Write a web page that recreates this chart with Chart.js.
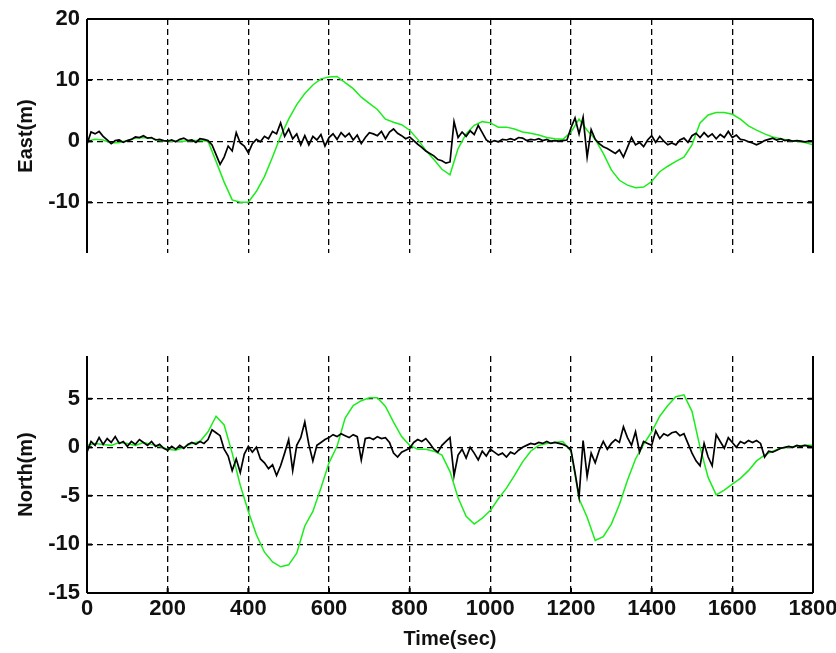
<!DOCTYPE html>
<html>
<head>
<meta charset="utf-8">
<script src="https://cdn.jsdelivr.net/npm/chart.js@4"></script>
<style>
  html, body { margin: 0; padding: 0; background: #fff; }
  #wrap { position: relative; width: 836px; height: 653px; }
  .box { position: absolute; left: 0; width: 836px; }
</style>
</head>
<body>
<div id="wrap">
  <div class="box" style="top:0;height:262px"><canvas id="east"></canvas></div>
  <div class="box" style="top:340px;height:313px"><canvas id="north"></canvas></div>
</div>
<script>
// tick labels
const timeTicks = [0, 200, 400, 600, 800, 1000, 1200, 1400, 1600, 1800];
const eastTicks = [-10, 0, 10, 20];
const northTicks = [-15, -10, -5, 0, 5];

// black trace, one value every 10 s
const eastBlack = [
  -0.5, 1.5, 1.2, 1.6, 0.8, 0.2, -0.4, 0.1, 0.2, -0.2,
  0.1, 0.3, 0.7, 0.6, 0.9, 0.5, 0.6, 0.2, 0.3, 0.1,
  0, 0.2, -0.1, 0.3, 0.5, 0.1, 0.2, -0.2, 0.4, 0.3,
  0.1, -0.6, -2.2, -3.8, -2.6, -0.8, -1.6, 1.4, -0.3, -0.8,
  -1.9, -0.4, 0.3, -0.1, 0.8, 0.4, 1.6, 1.2, 3.0, 0.8,
  2.0, 0.4, 1.2, -0.6, 0.9, -0.6, 0.8, 0.2, 1.1, -0.8,
  0.6, 1.2, 0.3, 1.4, 0.7, 1.3, 0.2, 1.0, -0.4, 0.6,
  1.4, 1.2, 0.9, 1.6, 0.4, 1.5, 2.0, 1.3, 0.9, 0.4,
  0.7, 0.1, -0.5, -1.0, -1.6, -2.0, -2.4, -3.0, -3.2, -3.6,
  -3.4, 3.2, 0.6, 1.5, 0.8, 1.7, 1.1, 2.6, 1.4, 0.2,
  -0.2, 0.1, -0.1, 0.3, 0.2, 0.4, 0.2, 0.6, 0.5, 0.1,
  0.3, 0.2, 0.4, 0.1, 0.3, 0, 0.1, 0, 0.1, 0.2,
  2.2, 3.8, 1.2, 3.9, -2.6, 1.9, 0.3, -0.4, -0.9, -1.2,
  -1.6, -2.0, -1.4, -2.6, -1.0, 0.6, -0.6, -0.2, -0.9, 0.2,
  0.9, -0.2, 0.8, 0, -0.6, -0.3, -0.6, 0.2, 0.5, -0.2,
  0.9, 1.3, 0.6, 1.4, 0.7, 1.2, 0.4, 1.1, 0.6, 1.6,
  0.6, 1.0, 0.3, 0.2, -0.1, -0.3, -0.6, -0.3, 0.1, 0.3,
  0.5, 0.2, 0.4, 0.1, 0.2, 0, 0.1, 0, -0.1, 0,
  0
];
const northBlack = [
  -0.5, 0.6, 0.2, 1.0, 0.3, 0.9, 0.5, 1.1, 0.4, 0.6,
  0.1, 0.6, 0.3, 0.8, 0.5, 0.2, 0.6, 0.1, 0.3, -0.1,
  -0.3, 0.1, -0.2, 0.2, -0.1, 0.3, 0.5, 0.3, 0.6, 0.4,
  0.8, 1.8, 1.5, 1.2, -0.2, -0.9, -2.4, -1.2, -2.6, -0.7,
  0.1, -0.5, 0, -1.2, -1.6, -2.2, -1.8, -2.9, -1.9, -0.6,
  0.8, -2.4, 0.2, 1.0, 2.6, 0.3, -1.4, 0.2, 0.5, 0.8,
  1.0, 1.3, 1.1, 1.4, 1.2, 1.0, 1.3, 1.1, -1.3, 0.9,
  1.0, 0.8, 1.1, 0.9, 1.0, 0.5, -0.6, -1.0, -0.5, -0.3,
  -0.1, 0.5, 0.8, 0.6, 0.9, 0.4, -0.2, -0.5, 0.2, 0.6,
  1.0, -2.9, -0.8, -0.2, -1.1, 0, -0.6, -1.3, -0.4, -0.9,
  -0.2, -0.5, -0.8, -0.6, -1.0, -0.5, -0.7, -0.3, 0, 0.2,
  0.4, 0.3, 0.5, 0.4, 0.6, 0.4, 0.5, 0.4, 0.3, 0.1,
  -0.3, -2.6, -5.1, 0.7, -3.0, -0.6, -1.6, -0.3, 0.6, -0.2,
  0.4, 0.8, 0.5, 2.1, 1.0, 0.2, 1.6, -0.5, 0.6, 0.4,
  0.2, 1.7, 0.9, 1.4, 1.2, 1.5, 1.6, 1.2, 1.4, 0.4,
  -0.6, -1.4, -1.9, 0.4, -1.0, -1.9, 1.3, 0.6, -0.1, 1.0,
  0.5, 0, 0.6, 0.4, 0.7, 0.5, 0.7, 0.4, -1.0, -0.4,
  -0.5, -0.3, -0.1, 0, 0.1, 0, 0.2, 0.1, 0.2, 0.1,
  0
];

// green trace, one value every 20 s
const eastGreen = [
  0, 0.3, 0.2, -0.3, -0.2, 0.1, 0.5, 0.6, 0.5, 0.1,
  0, 0, 0, 0.1, 0.1, 0, -3.3, -6.7, -9.6, -10,
  -10, -8.2, -5.8, -2.6, 0.8, 3.6, 6, 7.8, 9.2, 10.2,
  10.5, 10.6, 9.6, 8.6, 7.2, 6.2, 5.2, 3.6, 3.1, 2.7,
  1.8, 0.3, -1.5, -3, -4.6, -5.5, -1.2, 1.2, 2.6, 3.2,
  3, 2.3, 2.3, 2, 1.5, 1.3, 1, 0.6, 0.4, 0.3,
  1.5, 3.6, 1.8, 0.3, -2, -4.7, -6.4, -7.2, -7.6, -7.5,
  -6.6, -5.0, -4.1, -3.3, -2.6, -0.6, 3.0, 4.3, 4.7, 4.7,
  4.4, 3.6, 2.5, 1.8, 1.2, 0.7, 0.4, 0.1, 0, -0.2,
  -0.6
];
const northGreen = [
  0.2, 0.4, 0.3, 0.2, 0.5, 0.4, 0.2, 0.5, 0.3, 0.1,
  -0.2, -0.3, 0, 0.4, 0.6, 1.6, 3.2, 2.3, -0.6, -3.9,
  -6.6, -9.0, -10.8, -11.8, -12.3, -12.1, -10.9, -8.1, -6.6, -4.2,
  -1.6, 0.1, 3.0, 4.3, 4.8, 5.1, 5.1, 4.2, 2.6, 1.1,
  0.2, -0.2, -0.2, -0.4, -0.8, -2.5, -5.2, -7.1, -7.9, -7.3,
  -6.5, -5.3, -4.2, -2.9, -1.5, -0.4, 0.2, 0.4, 0.5, 0.6,
  -0.4, -5.3, -7.2, -9.6, -9.2, -7.9, -5.9, -3.4, -1.2, 0.3,
  1.6, 3.2, 4.3, 5.2, 5.4, 3.7, 0, -3.1, -4.9, -4.4,
  -3.8, -3.2, -2.4, -1.4, -0.8, -0.4, -0.1, 0, 0.1, 0.2,
  0.2
];

const pts = (vals, step) => vals.map((v, i) => ({ x: i * step, y: v }));

const FONT = 'Liberation Sans, Arial, sans-serif';
const INK = '#111';

// draws the solid box edges and the small inward ticks, matlab style
const frame = {
  id: 'frame',
  afterDraw(chart, args, opts) {
    const { ctx, chartArea: a, scales } = chart;
    ctx.save();
    ctx.strokeStyle = '#000';
    ctx.lineWidth = 2;
    ctx.beginPath();
    ctx.moveTo(a.left, a.top); ctx.lineTo(a.left, a.bottom);
    ctx.moveTo(a.right, a.top); ctx.lineTo(a.right, a.bottom);
    if (opts.top) { ctx.moveTo(a.left, a.top); ctx.lineTo(a.right, a.top); }
    if (opts.bottom) { ctx.moveTo(a.left, a.bottom); ctx.lineTo(a.right, a.bottom); }
    scales.y.ticks.forEach(t => {
      const y = scales.y.getPixelForValue(t.value);
      ctx.moveTo(a.left, y); ctx.lineTo(a.left + 5, y);
      ctx.moveTo(a.right - 5, y); ctx.lineTo(a.right, y);
    });
    if (opts.bottom) {
      scales.x.ticks.forEach(t => {
        const x = scales.x.getPixelForValue(t.value);
        ctx.moveTo(x, a.bottom); ctx.lineTo(x, a.bottom - 5);
      });
    }
    ctx.stroke();
    ctx.restore();
  }
};

function makeChart(id, black, green, yTicks, yMin, yMax, label, opts) {
  return new Chart(document.getElementById(id), {
    type: 'line',
    data: {
      datasets: [
        { data: pts(black, 10), borderColor: '#000', borderWidth: 1.7 },
        { data: pts(green, 20), borderColor: '#1aee1a', borderWidth: 1.5 }
      ]
    },
    plugins: [frame],
    options: {
      responsive: true,
      maintainAspectRatio: false,
      animation: false,
      elements: { point: { radius: 0 }, line: { tension: 0 } },
      layout: { padding: { top: opts.padTop, right: 23, left: 0, bottom: 0 } },
      plugins: {
        legend: { display: false },
        tooltip: { enabled: false },
        frame: { top: opts.showTop, bottom: opts.showBottom }
      },
      scales: {
        x: {
          type: 'linear',
          min: 0,
          max: 1800,
          bounds: 'data',
          afterBuildTicks: s => { s.ticks = timeTicks.map(v => ({ value: v })); },
          afterFit: s => {
            s.height = opts.xHeight;
            s.paddingLeft = 0;
            s.paddingRight = 0;
          },
          grid: { color: '#000', lineWidth: 1.3, drawTicks: false },
          border: { display: false, dash: [6, 4] },
          ticks: {
            display: opts.showBottom,
            padding: 3,
            color: INK,
            maxRotation: 0,
            callback: v => String(v),
            font: { family: FONT, size: 22, weight: 'bold' }
          },
          title: {
            display: opts.showBottom,
            text: 'Time(sec)',
            color: INK,
            padding: { top: 0, bottom: 2 },
            font: { family: FONT, size: 20, weight: 'bold' }
          }
        },
        y: {
          min: yMin,
          max: yMax,
          bounds: 'data',
          afterBuildTicks: s => { s.ticks = yTicks.map(v => ({ value: v })); },
          afterFit: s => {
            s.width = 87;
            s.paddingTop = 0;
            s.paddingBottom = 0;
          },
          grid: { color: '#000', lineWidth: 1.3, drawTicks: false },
          border: { display: false, dash: [6, 4] },
          ticks: {
            padding: 7,
            color: INK,
            callback: v => String(v),
            font: { family: FONT, size: 22, weight: 'bold' }
          },
          title: {
            display: true,
            text: label,
            color: INK,
            padding: { top: 14, bottom: 0 },
            font: { family: FONT, size: 20, weight: 'bold' }
          }
        }
      }
    }
  });
}

makeChart('east', eastBlack, eastGreen, eastTicks, -18.3, 20, 'East(m)',
  { padTop: 19, xHeight: 9, showTop: true, showBottom: false });
makeChart('north', northBlack, northGreen, northTicks, -15, 9.4, 'North(m)',
  { padTop: 16, xHeight: 60, showTop: false, showBottom: true });
</script>
</body>
</html>
